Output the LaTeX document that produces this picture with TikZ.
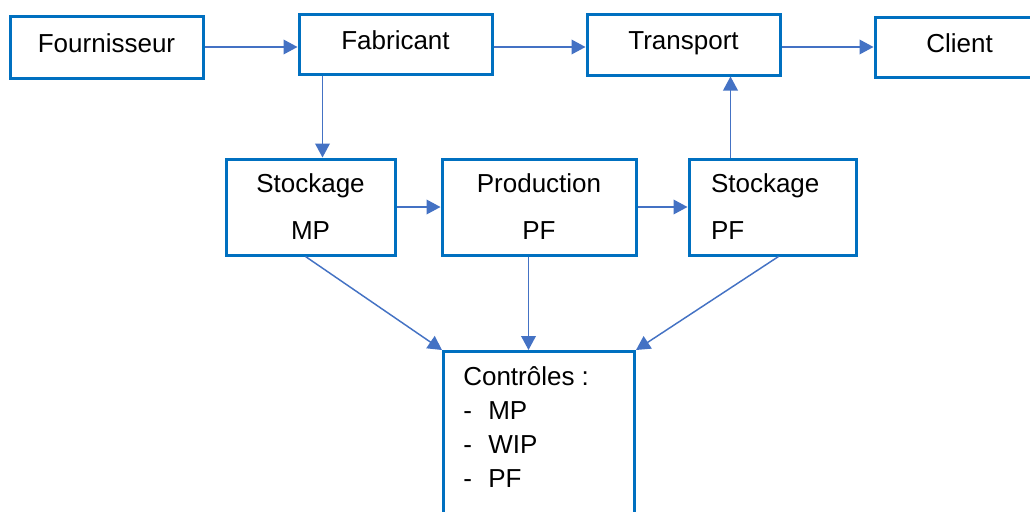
\documentclass[tikz,border=0pt]{standalone}
\usepackage{fontspec}
\setmainfont{Liberation Sans}
\usetikzlibrary{arrows.meta,positioning,calc}
\definecolor{bordbleu}{RGB}{0,112,192}
\definecolor{flechebleu}{RGB}{68,114,196}

\begin{document}
\begin{tikzpicture}[x=0.75pt,y=-0.75pt,
	bloc/.style={draw=bordbleu, line width=2.25pt, fill=white, inner sep=0pt, font=\fontsize{19.5}{35.25}\selectfont},
	simple/.style={text height=14pt, text depth=5.85pt},
	fleche/.style={draw=flechebleu, line width=1.1pt, -{Triangle[length=10.5pt,width=11pt]}}]
	\fill[white] (0,0) rectangle (1030,511);
	\clip (0,0) rectangle (1030,511);
	\node[bloc, simple, minimum width=144.75pt, minimum height=46.5pt] (four) at (106.5,47) {Fournisseur};
	\node[bloc, simple, minimum width=144.75pt, minimum height=45pt] (fab) at (395.5,44) {Fabricant};
	\node[bloc, simple, minimum width=144.75pt, minimum height=45.75pt] (trans) at (683.5,44.5) {Transport};
	\node[bloc, simple, minimum width=126.75pt, minimum height=45pt] (client) at (959.5,47) {Client};
	\node[bloc, align=center, minimum width=126.75pt, minimum height=72pt] (stmp) at (310.5,207) {Stockage\\MP};
	\node[bloc, align=center, minimum width=145.5pt, minimum height=72pt] (prod) at (539,207) {Production\\PF};
	\node[bloc, align=left, inner xsep=16.5pt, text width=92.25pt, minimum height=72pt] (stpf) at (772.5,207) {Stockage\\PF};
	\node[bloc, anchor=north west, minimum width=143.25pt, minimum height=150pt] (ctrl) at (442,350) {};
	\node[anchor=north west, inner sep=0pt, align=left, font=\fontsize{19.5}{25.5}\selectfont] (ctrltxt) at (463,366)
		{Contrôles :\\\makebox[18.75pt][l]{-}MP\\\makebox[18.75pt][l]{-}WIP\\\makebox[18.75pt][l]{-}PF};
	\draw[fleche] (four.east) -- (four.east -| fab.west);
	\draw[fleche] (fab.east |- four.east) -- (trans.west |- four.east);
	\draw[fleche] (trans.east |- client.west) -- (client.west);
	\draw[fleche] ($(fab.south west)+(25,0)$) coordinate (f1) -- (f1 |- stmp.north);
	\draw[fleche] (stmp.east) -- (prod.west);
	\draw[fleche] (prod.east) -- (stpf.west);
	\draw[fleche] ($(stpf.north west)+(43,0)$) coordinate (s1) -- (s1 |- trans.south);
	\draw[fleche] ($(stmp.south west)+(81,0)$) -- (ctrl.north west);
	\draw[fleche] ($(prod.south west)+(88,0)$) coordinate (p1) -- (p1 |- ctrl.north);
	\draw[fleche] ($(stpf.south west)+(91,0)$) -- (ctrl.north east);
\end{tikzpicture}
\end{document}
